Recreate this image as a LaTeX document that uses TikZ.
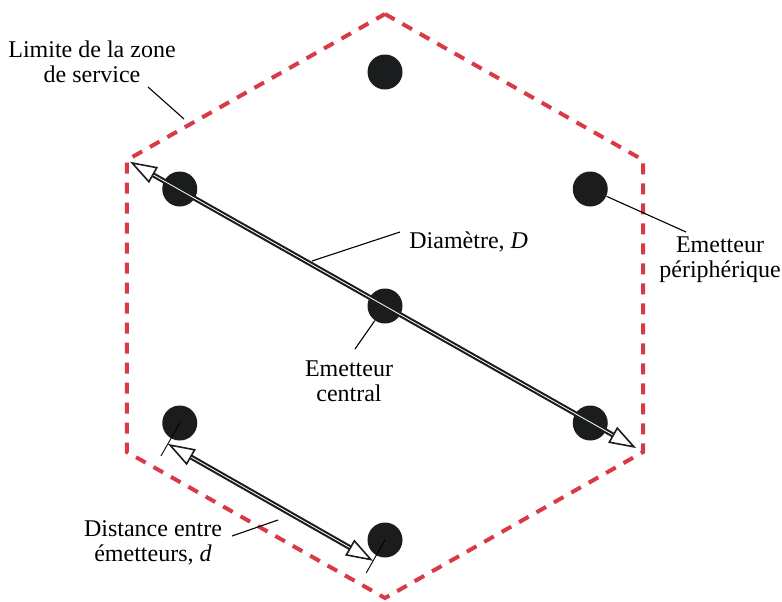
\documentclass[tikz,border=0pt]{standalone}
\usepackage{fontspec}
\setmainfont{Liberation Serif}
\usetikzlibrary{arrows.meta,calc}
\definecolor{ZoneRed}{HTML}{D93A45}
\definecolor{DotInk}{HTML}{1B1C1E}
\tikzset{
  zone/.style={draw=ZoneRed, line width=2pt, dash pattern=on 5.5pt off 4.5pt},
  emitter/.style={circle, fill=DotInk, minimum size=17.5pt, inner sep=0pt},
  tag/.style={align=center, inner sep=0pt, font=\fontsize{12}{12.6}\selectfont},
  leader/.style={draw=black, line width=0.55pt},
  extline/.style={draw=black, line width=0.45pt},
  span/.style={
    draw=DotInk, line width=1.05pt, double=white, double distance=0.4pt,
    {Triangle[open,length=13.5pt,width=9pt,line width=0.8pt]}-{Triangle[open,length=13.5pt,width=9pt,line width=0.8pt]}
  }
}

\begin{document}
\begin{tikzpicture}[x=0.5pt,y=-0.5pt]
    \useasboundingbox (0,0) rectangle (782,601);
    \coordinate (o) at (385,306);
    % zone de service
    \foreach \n/\a in {vt/270,vur/330,vlr/30,vb/90,vll/150,vul/210}
      \coordinate (\n) at ($(o)+(\a:298 and 292)$);
    \draw[zone] (vt) -- (vur) -- (vlr) -- (vb) -- (vll) -- (vul) -- cycle;
    % emetteurs
    \foreach \n/\a in {dt/270,dur/330,dlr/30,db/90,dll/150,dul/210}
      \node[emitter] (\n) at ($(o)+(\a:237 and 234)$) {};
    \node[emitter] (c) at (o) {};
    % diametre
    \draw[span,shorten <=1.8pt,shorten >=4pt] (vul) -- (vlr);
    % distance entre emetteurs
    \coordinate (ea) at ($(dll.center)!19pt!-90:(db.center)$);
    \coordinate (eb) at ($(db.center)!19pt!90:(dll.center)$);
    \coordinate (pa) at ($(dll.center)!12pt!-90:(db.center)$);
    \coordinate (pb) at ($(db.center)!12pt!90:(dll.center)$);
    \draw[extline] (dll.center) -- (ea);
    \draw[extline] (db.center) -- (eb);
    \draw[span] (pa) -- (pb);
    % textes
    \node[tag] (lim) at (92,62) {Limite de la zone\\de service};
    \node[tag,anchor=west] (dia) at (409,242) {Diamètre, \textit{D}};
    \node[tag] (per) at (720,260) {Emetteur\\périphérique};
    \node[tag] (cen) at (349,381) {Emetteur\\central};
    \node[tag] (dist) at (153,543) {Distance entre\\émetteurs, \textit{d}};
    % lignes de rappel
    \coordinate (limA) at (148,87);
    \coordinate (limB) at (184,119);
    \coordinate (diaA) at (400,232);
    \coordinate (diaB) at (312,261);
    \coordinate (perA) at (686,232);
    \coordinate (cenA) at (355,349);
    \coordinate (distA) at (232,536);
    \coordinate (distB) at (278,520);
    \draw[leader] (limA) -- (limB);
    \draw[leader] (diaA) -- (diaB);
    \draw[leader] (dur) -- (perA);
    \draw[leader] (cenA) -- (c);
    \draw[leader] (distA) -- (distB);
\end{tikzpicture}
\end{document}
